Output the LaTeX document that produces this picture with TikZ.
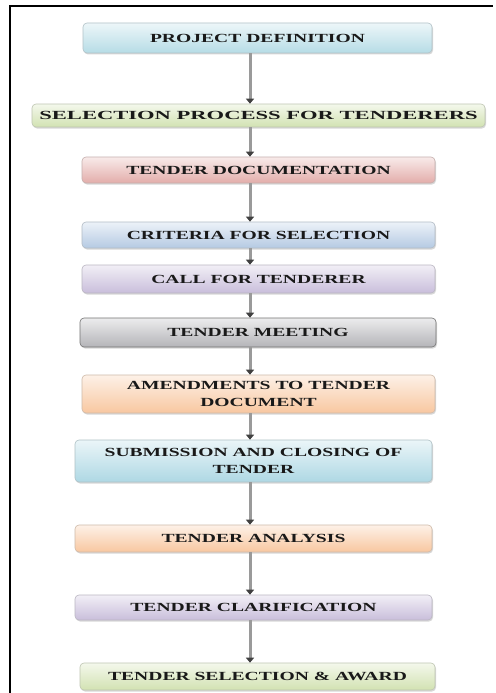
\documentclass[tikz,border=0pt]{standalone}
\usepackage{fontspec}
\usetikzlibrary{arrows.meta,shadows}
\newfontfamily\boxfont[FakeStretch=1.58]{Liberation Serif}
\newfontfamily\boxfontwide[FakeStretch=1.82]{Liberation Serif}
\definecolor{arrowgray}{HTML}{9A9A9A}
\begin{document}
\begin{tikzpicture}[x=1pt,y=-1pt,
  stage/.style={draw=#1!70!black!60, line width=0.6pt, rounded corners=4pt, inner sep=0pt,
     shading=axis, top color=#1!25!white, bottom color=#1, shading angle=0,
     drop shadow={shadow xshift=1pt,shadow yshift=-1.5pt,opacity=0.25,fill=black!60},
     font=\boxfont\bfseries\fontsize{12.4}{16.5}\selectfont, text=black!90, align=center},
  flow/.style={draw=arrowgray, line width=3pt,
     -{Triangle[width=8pt,length=5pt,color=black!75]}}]
\definecolor{cA}{HTML}{B6DCE6}
\definecolor{cG}{HTML}{D2E2B2}
\definecolor{cR}{HTML}{E3ADAA}
\definecolor{cB}{HTML}{B5CAE3}
\definecolor{cL}{HTML}{C9BEDB}
\definecolor{cK}{HTML}{B4B4B8}
\definecolor{cO}{HTML}{F8C7A0}
\definecolor{cQ}{HTML}{AED8E4}
\useasboundingbox (0,0) rectangle (495,693);
\fill[white] (0,0) rectangle (495,693);
\draw[line width=2.2pt] (10,693) -- (10,6) -- (493,6);
\coordinate (ax) at (250,0);
\node[stage=cA, minimum width=349pt, minimum height=30pt] (b1) at (257.5,38) {PROJECT DEFINITION};
\node[stage=cG, minimum width=453pt, minimum height=23pt, font=\boxfontwide\bfseries\fontsize{12.4}{16.5}\selectfont] (b2) at (258.5,115.5) {SELECTION PROCESS FOR TENDERERS};
\node[stage=cR, minimum width=353pt, minimum height=26pt] (b3) at (258.5,170) {TENDER DOCUMENTATION};
\node[stage=cB, minimum width=353pt, minimum height=26pt] (b4) at (258.5,235) {CRITERIA FOR SELECTION};
\node[stage=cL, minimum width=353pt, minimum height=28pt] (b5) at (258.5,279) {CALL FOR TENDERER};
\node[stage=cK, minimum width=356pt, minimum height=29pt, draw=black!55] (b6) at (258,332.5) {TENDER MEETING};
\node[stage=cO, minimum width=353pt, minimum height=38pt] (b7) at (258.5,394) {AMENDMENTS TO TENDER\\DOCUMENT};
\node[stage=cQ, minimum width=357pt, minimum height=42pt] (b8) at (253.5,461) {SUBMISSION AND CLOSING OF\\TENDER};
\node[stage=cO, minimum width=357pt, minimum height=27pt] (b9) at (253.5,538.5) {TENDER ANALYSIS};
\node[stage=cL, minimum width=357pt, minimum height=25pt] (b10) at (253.5,607.5) {TENDER CLARIFICATION};
\node[stage=cG, minimum width=355pt, minimum height=27pt] (b11) at (257.5,676.5) {TENDER SELECTION \& AWARD};
\foreach \a/\b in {b1/b2,b2/b3,b3/b4,b4/b5,b5/b6,b6/b7,b7/b8,b8/b9,b9/b10,b10/b11}
  \draw[flow] (\a.south -| ax) -- (\b.north -| ax);
\end{tikzpicture}
\end{document}
